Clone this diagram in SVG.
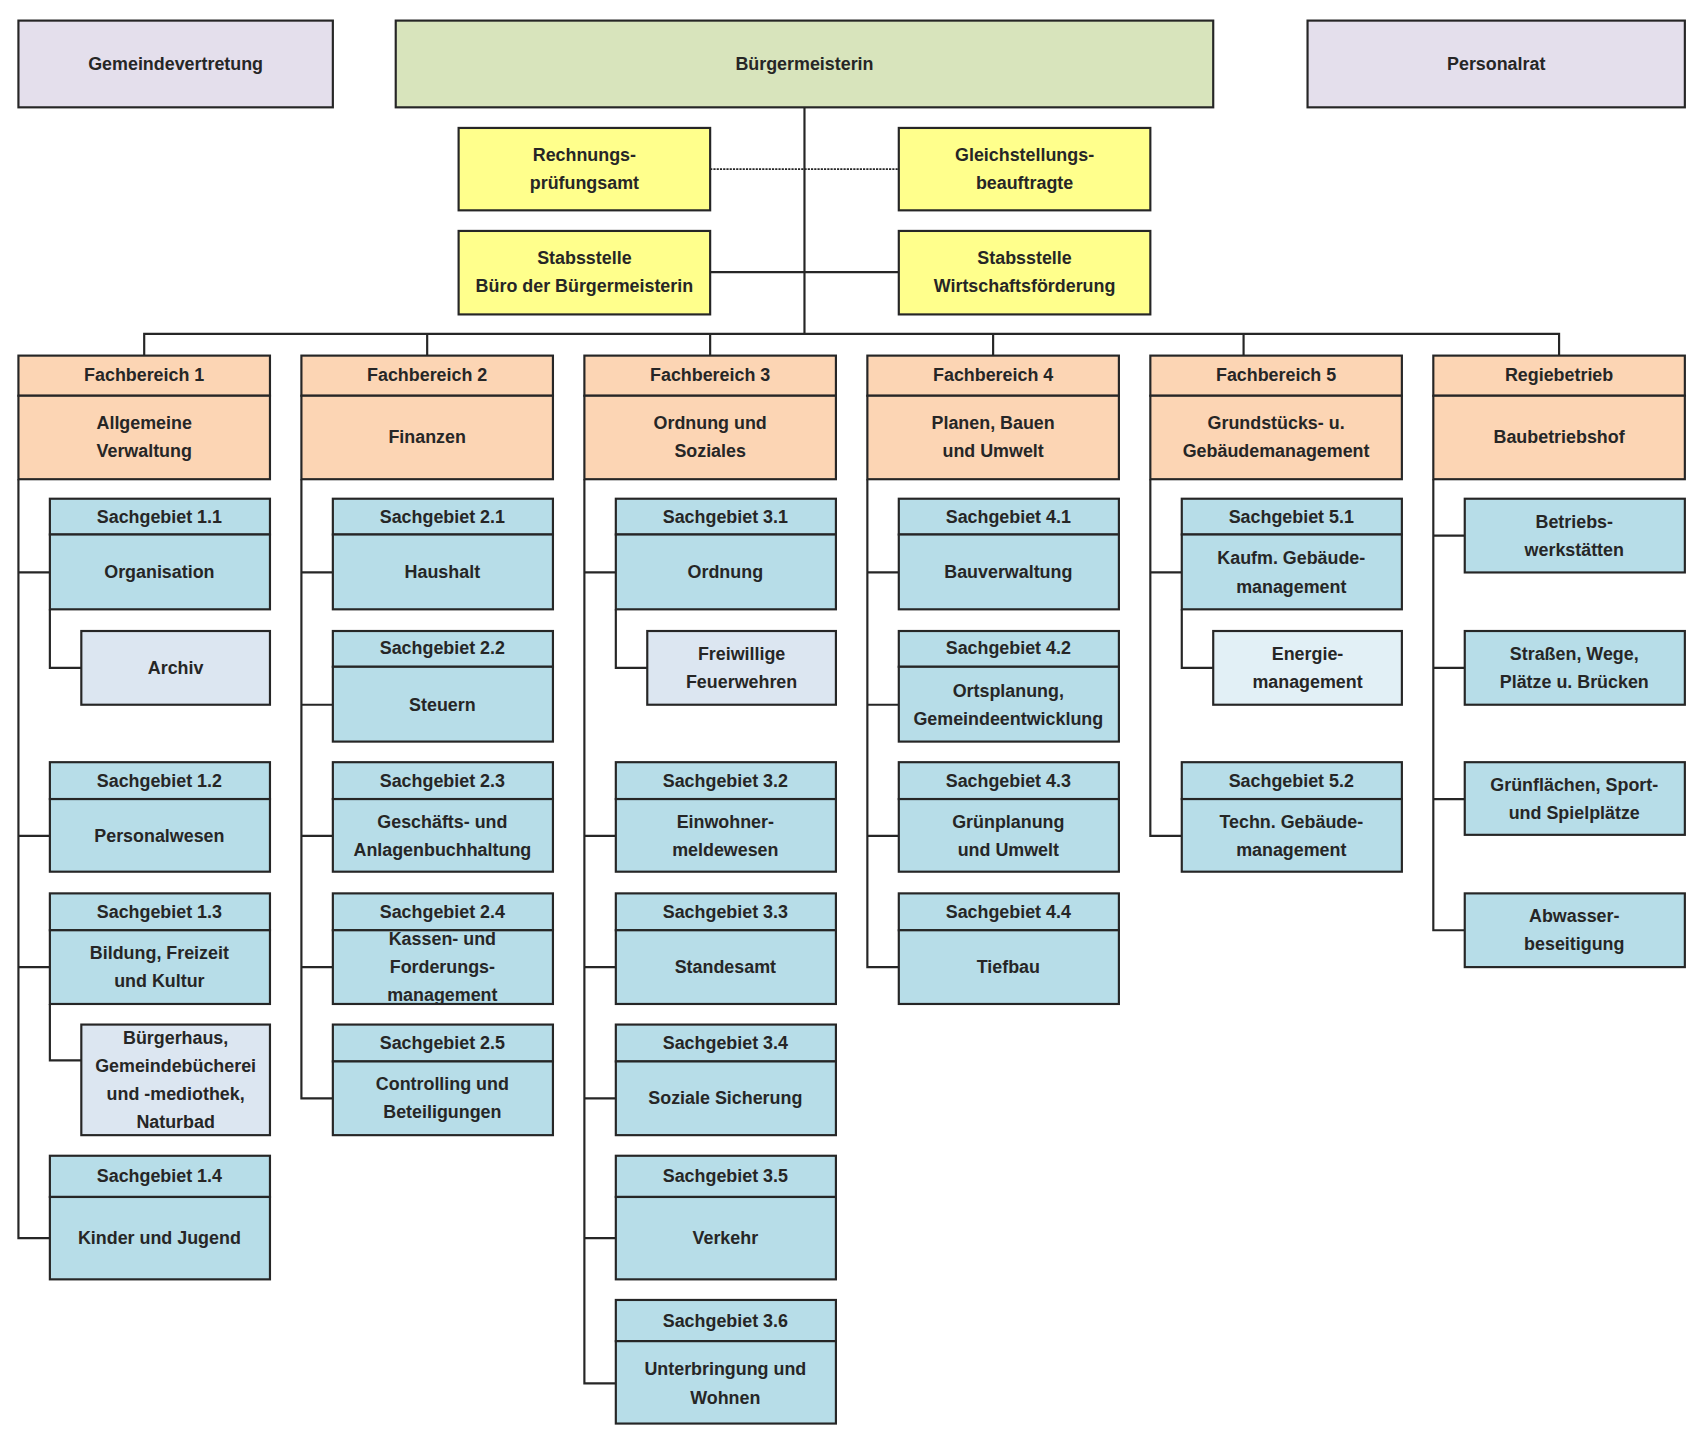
<svg xmlns="http://www.w3.org/2000/svg" width="1700" height="1444" viewBox="0 0 1700 1444">
<style>
rect{stroke:#262626;stroke-width:2}
.g{fill:#e4dfec}.bm{fill:#d8e4bc}.y{fill:#ffff8c}.o{fill:#fcd5b4}.b{fill:#b7dde8}.l{fill:#dce6f1}
text{font-family:"Liberation Sans",Arial,sans-serif;font-weight:bold;font-size:16.5px;fill:#262626;text-anchor:middle;dominant-baseline:central}
#connectors path{fill:none;stroke:#262626;stroke-width:2}
</style>
<rect width="1700" height="1444" fill="#fff" style="stroke:none"/>
<g transform="scale(1.0842)">
<g id="connectors">
<path d="M742 99V308M133 328V308H1438V328M394 308V328M655 308V328M916 308V328M1147 308V328M655 251H829"/>
<path d="M655 156H829" style="stroke-dasharray:2 1;stroke-width:1.5"/>
<path d="M17 442V1142H46M17 528H46M17 771H46M17 892H46M46 562V616H75M46 926V978H75"/>
<path d="M278 442V1013H307M278 528H307M278 650H307M278 771H307M278 892H307"/>
<path d="M539 442V1276H568M539 528H568M539 771H568M539 892H568M539 1013H568M539 1142H568M568 562V616H597"/>
<path d="M800 442V892H829M800 528H829M800 650H829M800 771H829"/>
<path d="M1061 442V771H1090M1061 528H1090M1090 562V616H1119"/>
<path d="M1322 442V858H1351M1322 494H1351M1322 616H1351M1322 737H1351"/>
</g>
<g id="gv"><rect class="g" x="17" y="19" width="290" height="80"/><text x="162" y="59">Gemeindevertretung</text></g>
<g id="bm"><rect class="bm" x="365" y="19" width="754" height="80"/><text x="742" y="59">Bürgermeisterin</text></g>
<g id="pr"><rect class="g" x="1206" y="19" width="348" height="80"/><text x="1380" y="59">Personalrat</text></g>
<g id="rpa"><rect class="y" x="423" y="118" width="232" height="76"/><text x="539" y="143">Rechnungs-</text><text x="539" y="169">prüfungsamt</text></g>
<g id="gsb"><rect class="y" x="829" y="118" width="232" height="76"/><text x="945" y="143">Gleichstellungs-</text><text x="945" y="169">beauftragte</text></g>
<g id="sbb"><rect class="y" x="423" y="213" width="232" height="77"/><text x="539" y="238">Stabsstelle</text><text x="539" y="264">Büro der Bürgermeisterin</text></g>
<g id="swf"><rect class="y" x="829" y="213" width="232" height="77"/><text x="945" y="238">Stabsstelle</text><text x="945" y="264">Wirtschaftsförderung</text></g>

<g id="fb1"><rect class="o" x="17" y="328" width="232" height="37"/><rect class="o" x="17" y="365" width="232" height="77"/><text x="133" y="346">Fachbereich 1</text><text x="133" y="390">Allgemeine</text><text x="133" y="416">Verwaltung</text></g>
<g id="fb2"><rect class="o" x="278" y="328" width="232" height="37"/><rect class="o" x="278" y="365" width="232" height="77"/><text x="394" y="346">Fachbereich 2</text><text x="394" y="403">Finanzen</text></g>
<g id="fb3"><rect class="o" x="539" y="328" width="232" height="37"/><rect class="o" x="539" y="365" width="232" height="77"/><text x="655" y="346">Fachbereich 3</text><text x="655" y="390">Ordnung und</text><text x="655" y="416">Soziales</text></g>
<g id="fb4"><rect class="o" x="800" y="328" width="232" height="37"/><rect class="o" x="800" y="365" width="232" height="77"/><text x="916" y="346">Fachbereich 4</text><text x="916" y="390">Planen, Bauen</text><text x="916" y="416">und Umwelt</text></g>
<g id="fb5"><rect class="o" x="1061" y="328" width="232" height="37"/><rect class="o" x="1061" y="365" width="232" height="77"/><text x="1177" y="346">Fachbereich 5</text><text x="1177" y="390">Grundstücks- u.</text><text x="1177" y="416">Gebäudemanagement</text></g>
<g id="rb"><rect class="o" x="1322" y="328" width="232" height="37"/><rect class="o" x="1322" y="365" width="232" height="77"/><text x="1438" y="346">Regiebetrieb</text><text x="1438" y="403">Baubetriebshof</text></g>

<g id="sg11"><rect class="b" x="46" y="460" width="203" height="33"/><rect class="b" x="46" y="493" width="203" height="69"/><text x="147" y="477">Sachgebiet 1.1</text><text x="147" y="528">Organisation</text></g>
<g id="archiv"><rect class="l" x="75" y="582" width="174" height="68"/><text x="162" y="616">Archiv</text></g>
<g id="sg12"><rect class="b" x="46" y="703" width="203" height="34"/><rect class="b" x="46" y="737" width="203" height="67"/><text x="147" y="720">Sachgebiet 1.2</text><text x="147" y="771">Personalwesen</text></g>
<g id="sg13"><rect class="b" x="46" y="824" width="203" height="34"/><rect class="b" x="46" y="858" width="203" height="68"/><text x="147" y="841">Sachgebiet 1.3</text><text x="147" y="879">Bildung, Freizeit</text><text x="147" y="905">und Kultur</text></g>
<g id="bh"><rect class="l" x="75" y="945" width="174" height="102"/><text x="162" y="957">Bürgerhaus,</text><text x="162" y="983">Gemeindebücherei</text><text x="162" y="1009">und -mediothek,</text><text x="162" y="1035">Naturbad</text></g>
<g id="sg14"><rect class="b" x="46" y="1066" width="203" height="38"/><rect class="b" x="46" y="1104" width="203" height="76"/><text x="147" y="1085">Sachgebiet 1.4</text><text x="147" y="1142">Kinder und Jugend</text></g>

<g id="sg21"><rect class="b" x="307" y="460" width="203" height="33"/><rect class="b" x="307" y="493" width="203" height="69"/><text x="408" y="477">Sachgebiet 2.1</text><text x="408" y="528">Haushalt</text></g>
<g id="sg22"><rect class="b" x="307" y="582" width="203" height="33"/><rect class="b" x="307" y="615" width="203" height="69"/><text x="408" y="598">Sachgebiet 2.2</text><text x="408" y="650">Steuern</text></g>
<g id="sg23"><rect class="b" x="307" y="703" width="203" height="34"/><rect class="b" x="307" y="737" width="203" height="67"/><text x="408" y="720">Sachgebiet 2.3</text><text x="408" y="758">Geschäfts- und</text><text x="408" y="784">Anlagenbuchhaltung</text></g>
<g id="sg24"><rect class="b" x="307" y="824" width="203" height="34"/><rect class="b" x="307" y="858" width="203" height="68"/><text x="408" y="841">Sachgebiet 2.4</text><text x="408" y="866">Kassen- und</text><text x="408" y="892">Forderungs-</text><text x="408" y="918">management</text></g>
<g id="sg25"><rect class="b" x="307" y="945" width="203" height="34"/><rect class="b" x="307" y="979" width="203" height="68"/><text x="408" y="962">Sachgebiet 2.5</text><text x="408" y="1000">Controlling und</text><text x="408" y="1026">Beteiligungen</text></g>

<g id="sg31"><rect class="b" x="568" y="460" width="203" height="33"/><rect class="b" x="568" y="493" width="203" height="69"/><text x="669" y="477">Sachgebiet 3.1</text><text x="669" y="528">Ordnung</text></g>
<g id="ff"><rect class="l" x="597" y="582" width="174" height="68"/><text x="684" y="603">Freiwillige</text><text x="684" y="629">Feuerwehren</text></g>
<g id="sg32"><rect class="b" x="568" y="703" width="203" height="34"/><rect class="b" x="568" y="737" width="203" height="67"/><text x="669" y="720">Sachgebiet 3.2</text><text x="669" y="758">Einwohner-</text><text x="669" y="784">meldewesen</text></g>
<g id="sg33"><rect class="b" x="568" y="824" width="203" height="34"/><rect class="b" x="568" y="858" width="203" height="68"/><text x="669" y="841">Sachgebiet 3.3</text><text x="669" y="892">Standesamt</text></g>
<g id="sg34"><rect class="b" x="568" y="945" width="203" height="34"/><rect class="b" x="568" y="979" width="203" height="68"/><text x="669" y="962">Sachgebiet 3.4</text><text x="669" y="1013">Soziale Sicherung</text></g>
<g id="sg35"><rect class="b" x="568" y="1066" width="203" height="38"/><rect class="b" x="568" y="1104" width="203" height="76"/><text x="669" y="1085">Sachgebiet 3.5</text><text x="669" y="1142">Verkehr</text></g>
<g id="sg36"><rect class="b" x="568" y="1199" width="203" height="38"/><rect class="b" x="568" y="1237" width="203" height="76"/><text x="669" y="1218">Sachgebiet 3.6</text><text x="669" y="1263">Unterbringung und</text><text x="669" y="1289">Wohnen</text></g>

<g id="sg41"><rect class="b" x="829" y="460" width="203" height="33"/><rect class="b" x="829" y="493" width="203" height="69"/><text x="930" y="477">Sachgebiet 4.1</text><text x="930" y="528">Bauverwaltung</text></g>
<g id="sg42"><rect class="b" x="829" y="582" width="203" height="33"/><rect class="b" x="829" y="615" width="203" height="69"/><text x="930" y="598">Sachgebiet 4.2</text><text x="930" y="637">Ortsplanung,</text><text x="930" y="663">Gemeindeentwicklung</text></g>
<g id="sg43"><rect class="b" x="829" y="703" width="203" height="34"/><rect class="b" x="829" y="737" width="203" height="67"/><text x="930" y="720">Sachgebiet 4.3</text><text x="930" y="758">Grünplanung</text><text x="930" y="784">und Umwelt</text></g>
<g id="sg44"><rect class="b" x="829" y="824" width="203" height="34"/><rect class="b" x="829" y="858" width="203" height="68"/><text x="930" y="841">Sachgebiet 4.4</text><text x="930" y="892">Tiefbau</text></g>

<g id="sg51"><rect class="b" x="1090" y="460" width="203" height="33"/><rect class="b" x="1090" y="493" width="203" height="69"/><text x="1191" y="477">Sachgebiet 5.1</text><text x="1191" y="515">Kaufm. Gebäude-</text><text x="1191" y="541">management</text></g>
<g id="em"><rect x="1119" y="582" width="174" height="68" fill="#e2f0f6"/><text x="1206" y="603">Energie-</text><text x="1206" y="629">management</text></g>
<g id="sg52"><rect class="b" x="1090" y="703" width="203" height="34"/><rect class="b" x="1090" y="737" width="203" height="67"/><text x="1191" y="720">Sachgebiet 5.2</text><text x="1191" y="758">Techn. Gebäude-</text><text x="1191" y="784">management</text></g>

<g id="bw"><rect class="b" x="1351" y="460" width="203" height="68"/><text x="1452" y="481">Betriebs-</text><text x="1452" y="507">werkstätten</text></g>
<g id="sw"><rect class="b" x="1351" y="582" width="203" height="68"/><text x="1452" y="603">Straßen, Wege,</text><text x="1452" y="629">Plätze u. Brücken</text></g>
<g id="gf"><rect class="b" x="1351" y="703" width="203" height="67"/><text x="1452" y="724">Grünflächen, Sport-</text><text x="1452" y="750">und Spielplätze</text></g>
<g id="aw"><rect class="b" x="1351" y="824" width="203" height="68"/><text x="1452" y="845">Abwasser-</text><text x="1452" y="871">beseitigung</text></g>
</g>
</svg>
